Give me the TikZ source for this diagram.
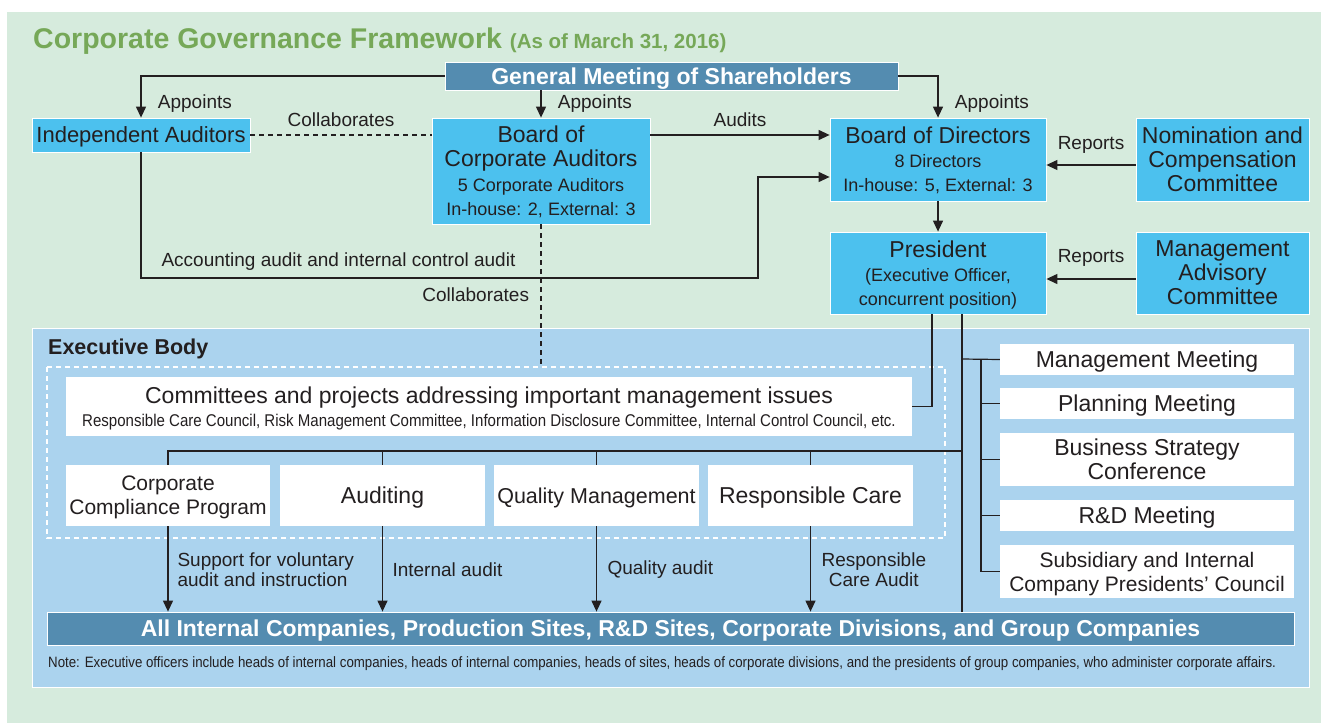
\documentclass[tikz,border=0pt]{standalone}
\usepackage{fontspec}
\setmainfont{Liberation Sans}
\newfontfamily\condfont[FakeStretch=0.885]{Liberation Sans}
\usetikzlibrary{arrows.meta,positioning}

\definecolor{paper}{RGB}{214,235,221}
\definecolor{leaf}{RGB}{118,168,88}
\definecolor{sky}{RGB}{76,193,238}
\definecolor{steel}{RGB}{84,140,176}
\definecolor{pale}{RGB}{171,211,238}
\definecolor{ink}{RGB}{35,31,32}

\newcommand{\subline}[1]{{\fontsize{18}{21}\selectfont #1}}

\begin{document}
\begin{tikzpicture}[x=1pt,y=-1pt,
  box/.style={draw=white, line width=0.8pt, fill=sky, text=ink, inner sep=0pt, align=center,
    text depth=0pt, font=\fontsize{23}{24}\selectfont},
  bar/.style={draw=white, line width=0.8pt, fill=steel, text=white, inner sep=0pt,
    text depth=0pt, font=\fontsize{23}{24}\selectfont\bfseries},
  wbox/.style={fill=white, text=ink, inner sep=0pt, align=center, text depth=0pt,
    font=\fontsize{23}{24}\selectfont},
  lbl/.style={text=ink, font=\fontsize{19}{22}\selectfont, align=left},
  link/.style={draw=ink, line width=1.2pt},
  arr/.style={link, -{Triangle[length=11pt,width=10pt]}},
  dots/.style={link, dash pattern=on 5pt off 4pt}]

\useasboundingbox (0,0) rectangle (1321,723);
\fill[paper] (7,12) rectangle (1321,723);

% heading
\node[anchor=base west, inner sep=0pt, text=leaf] (title) at (33,48)
  {\fontsize{28.5}{30}\selectfont\bfseries Corporate Governance Framework
   \fontsize{20.5}{22}\selectfont (As of March 31, 2016)};

% shareholders and the boards
\node[bar, minimum width=453pt, minimum height=28pt] (gm) at (671.5,76) {General Meeting of Shareholders};
\node[box, minimum width=218pt, minimum height=34pt, font=\fontsize{22}{24}\selectfont] (ia) at (141,135) {Independent Auditors};
\node[box, minimum width=218pt, minimum height=106pt] (bca) at (541,171)
  {Board of\\Corporate Auditors\\[1pt]\subline{5 Corporate Auditors}\\\subline{In-house: 2, External: 3}};
\node[box, minimum width=216pt, minimum height=83pt] (bod) at (938,159.5)
  {Board of Directors\\\subline{8 Directors}\\\subline{In-house: 5, External: 3}};
\node[box, minimum width=173pt, minimum height=83pt] (ncc) at (1222.5,159.5)
  {Nomination and\\Compensation\\Committee};
\node[box, minimum width=216pt, minimum height=82pt] (pres) at (938,273)
  {President\\\subline{(Executive Officer,}\\\subline{concurrent position)}};
\node[box, minimum width=173pt, minimum height=82pt] (mac) at (1222.5,273)
  {Management\\Advisory\\Committee};

% executive body
\fill[pale, draw=white, line width=0.8pt] (32,328) rectangle (1309,687);
\node[anchor=base west, inner sep=0pt, text=ink, font=\fontsize{21.5}{24}\selectfont\bfseries] (exec) at (48,354) {Executive Body};
\draw[white, line width=1.5pt, dash pattern=on 5pt off 4pt] (47,367) rectangle (945,538);

\node[wbox, minimum width=846pt, minimum height=59pt] (cmt) at (489,406.5)
  {Committees and projects addressing important management issues\\[-1pt]
   {\condfont\fontsize{17}{20}\selectfont Responsible Care Council, Risk Management Committee, Information Disclosure Committee, Internal Control Council, etc.}};
\node[wbox, minimum width=204pt, minimum height=61pt, font=\fontsize{21}{24}\selectfont] (ccp) at (168,495.5) {Corporate\\Compliance Program};
\node[wbox, minimum width=205pt, minimum height=61pt] (aud) at (382.5,495.5) {Auditing};
\node[wbox, minimum width=205pt, minimum height=61pt, font=\fontsize{21.5}{24}\selectfont] (qm) at (596.5,495.5) {Quality Management};
\node[wbox, minimum width=205pt, minimum height=61pt] (rc) at (810.5,495.5) {Responsible Care};

\node[wbox, minimum width=294pt, minimum height=31pt] (mm) at (1147,359.5) {Management Meeting};
\node[wbox, minimum width=294pt, minimum height=31pt] (pm) at (1147,403.5) {Planning Meeting};
\node[wbox, minimum width=294pt, minimum height=53pt] (bsc) at (1147,459.5) {Business Strategy\\Conference};
\node[wbox, minimum width=294pt, minimum height=31pt] (rd) at (1147,515.5) {R\&D Meeting};
\node[wbox, minimum width=294pt, minimum height=53pt, font=\fontsize{21}{24}\selectfont] (sub) at (1147,571.5) {Subsidiary and Internal\\Company Presidents’ Council};

\node[bar, minimum width=1247pt, minimum height=33pt] (all) at (670.5,628.5)
  {All Internal Companies, Production Sites, R\&D Sites, Corporate Divisions, and Group Companies};
\node[anchor=base west, inner sep=0pt, text=ink, font=\condfont\fontsize{15}{17}\selectfont] (note) at (48,667)
  {Note: Executive officers include heads of internal companies, heads of internal companies, heads of sites, heads of corporate divisions, and the presidents of group companies, who administer corporate affairs.};

\coordinate (bend) at (758,278);
\coordinate (cdown) at (541,365);
\coordinate (hub) at (962,451);
\coordinate (spine) at (981,359);

% appointments
\draw[arr] (gm.west) -| (ia.north) node[lbl, pos=0.83, right=13pt] {Appoints};
\draw[arr] (bca.north |- gm.south) -- (bca.north) node[lbl, midway, right=13pt] {Appoints};
\draw[arr] (gm.east) -| (bod.north) node[lbl, pos=0.83, right=13pt] {Appoints};

% audits and collaboration
\draw[dots] (ia.east) -- (bca.west |- ia.east) node[lbl, midway, above=4pt] {Collaborates};
\draw[arr] (bca.east |- ia.east) -- (bod.west |- ia.east) node[lbl, midway, above=4pt] {Audits};
\draw[arr] (ia.south) |- (bend) node[lbl, pos=0.66, above=4pt] {Accounting audit and internal control audit}
  |- ([yshift=-17.5pt]bod.west);
\draw[dots] (bca.south) -- (cdown) node[lbl, midway, left=8pt] {Collaborates};

% reports
\draw[arr] ([yshift=-5.5pt]ncc.west) -- ([yshift=-5.5pt]bod.east) node[lbl, midway, above=8pt] {Reports};
\draw[arr] ([yshift=-6pt]mac.west) -- ([yshift=-6pt]pres.east) node[lbl, midway, above=9pt] {Reports};
\draw[arr] (bod.south) -- (pres.north);

% president down into the executive body
\draw[link] ([xshift=-6pt]pres.south) |- (cmt.east);
\draw[link] ([xshift=24pt]pres.south) -- ([xshift=24pt]pres.south |- all.north);
\draw[link] (hub) -| (ccp.north);
\foreach \n in {aud,qm,rc}
  \draw[link] (\n.north) -- (\n.north |- hub);
\draw[link] (spine -| hub) -- (mm.west);
\draw[link] (spine) -- (spine |- sub.west);
\foreach \n in {pm,bsc,rd,sub}
  \draw[link] (\n.west) -- (\n.west -| spine);

% functions to the sites
\foreach \n in {ccp,aud,qm,rc}
  \draw[arr] (\n.south) -- (\n.south |- all.north);
\node[lbl, anchor=west] (supp) at (174,570) {Support for voluntary\\[-2pt]audit and instruction};
\node[lbl, anchor=west] (intaud) at (389,570) {Internal audit};
\node[lbl, anchor=west] (qaud) at (604,570) {Quality audit};
\node[lbl, anchor=west, align=center] (rcaud) at (818,570) {Responsible\\[-2pt]Care Audit};

\end{tikzpicture}
\end{document}
